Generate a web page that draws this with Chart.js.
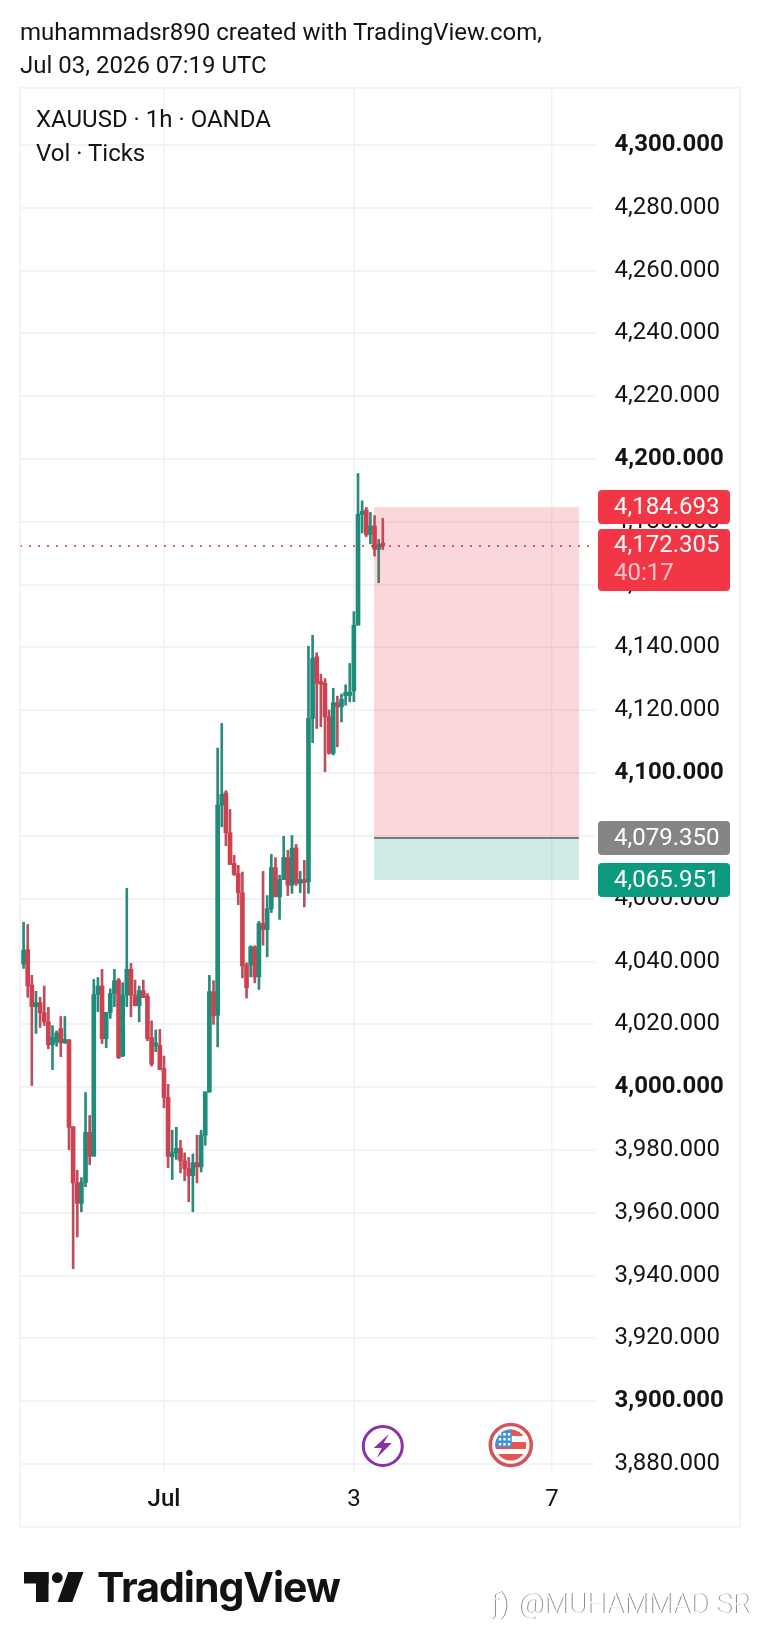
<!DOCTYPE html>
<html>
<head>
<meta charset="utf-8">
<title>XAUUSD 1h</title>
<script src="https://cdn.jsdelivr.net/npm/chart.js@4/dist/chart.umd.min.js"></script>
<style>
  html, body { margin: 0; padding: 0; background: #fff; }
  body { width: 760px; height: 1648px; position: relative; overflow: hidden; font-family: Roboto, sans-serif; color: #141414; }
  canvas { position: absolute; left: 0; top: 0; }
  .txt { position: absolute; white-space: nowrap; font-size: 24px; line-height: 30px; }
  .brand { position: absolute; left: 97px; top: 1562px; font: 700 41px/50px Inter, sans-serif; letter-spacing: -1px; color: #121212; }
  .mark { position: absolute; left: 490px; top: 1586px; font: 300 28px/36px Roboto, sans-serif; color: #fff; text-shadow: 1px 0 0 #8c8c8c; white-space: nowrap; }
  .mark span { display: inline-block; width: 28px; }
</style>
</head>
<body>
<canvas id="mychart" width="760" height="1648"></canvas>
<div class="txt" style="left:20px;top:17px">muhammadsr890 created with TradingView.com,</div>
<div class="txt" style="left:20px;top:50px">Jul 03, 2026 07:19 UTC</div>
<div class="txt" style="left:36px;top:104px">XAUUSD · 1h · OANDA</div>
<div class="txt" style="left:36px;top:138px">Vol · Ticks</div>
<div class="brand">TradingView</div>
<div class="mark"><span>ƒ)</span>@MUHAMMAD SR</div>
<script>
// hourly candles
const opens = [4039.2,4043.8,4032.5,4025.6,4026.9,4023.7,4020.8,4013.5,4014.4,4018.7,4014.1,4015,3987.4,3969.5,3963,3969.7,3985.6,3978,4029.5,4032.2,4015.4,4023.8,4029.8,4034.1,4009.9,4029.3,4037.5,4029.3,4025.9,4030.7,4029,4015.8,4013.1,4013.3,4005.9,3996.7,3977.8,3979.1,3980.5,3976.5,3974.1,3971.8,3975.9,3974.6,3984.7,3998.5,4030.4,4022.9,4089.8,4093.7,4081,4071.2,4068,4061.9,4038.9,4038.9,4044.7,4035.1,4052.1,4050.2,4056.8,4069.9,4060.6,4066.1,4073.1,4064.3,4076.2,4064.9,4066.1,4065.4,4117.4,4137,4129.1,4128.6,4117.9,4106.3,4122.4,4121.1,4124.7,4124.7,4126.2,4147.1,4182.4,4183.8,4176.1,4178.7,4171.3,4173];
const highs = [4052.5,4051.8,4035.6,4030.5,4028.6,4032.2,4025.4,4019.6,4017.9,4022.5,4022.5,4015.2,3987.4,3973.5,3971.2,3998.3,3991,4034.3,4034.9,4037.5,4023.8,4031.3,4037.5,4034.6,4033.3,4063.3,4039.4,4034.1,4032.2,4034.1,4029.8,4021.1,4018.2,4018.4,4009.9,4000.9,3986.3,3987.2,3983.1,3979.1,3977.6,3978.7,3984.7,3986.3,3998.5,4035.6,4033.9,4108,4115.8,4094.4,4088.4,4073.8,4070.6,4068.5,4039.6,4045,4045,4052.8,4068.7,4061,4074.1,4073.1,4067.5,4079.9,4075.4,4080.1,4077.3,4068.7,4072.2,4140.4,4143.9,4138.3,4131.5,4130.1,4120.1,4127,4124.5,4125.2,4128.1,4134.9,4151.4,4195.4,4186.7,4184.6,4183,4182,4174.4,4181.1];
const lows = [4037.8,4028.6,4000.5,4017.1,4019,4019.6,4012.2,4005.6,4013,4009.7,4013.9,3980.1,3942.2,3952.3,3960.3,3968.3,3975.3,3978,4024,4013.9,4012.6,4021.9,4025.6,4009.1,4009.7,4025.6,4022.4,4025.9,4020.8,4028.5,4014.8,4006.7,4011.3,4005.6,3993.4,3974.3,3970.6,3977,3972.7,3970.2,3963.5,3960.3,3969.5,3973,3981.5,3998.3,4020,4012.8,4082.9,4076.9,4070.9,4067.4,4058.1,4034.8,4028.4,4035.1,4033.2,4031.1,4045.2,4041.5,4055.6,4060.6,4053.4,4066.1,4061,4061.7,4064.2,4061.9,4057.4,4061.7,4109.7,4114.2,4114.8,4100.4,4106,4105.8,4108.4,4116.3,4121.6,4122.7,4122.7,4147.1,4176.5,4175.3,4173,4169.1,4160.6,4171.2];
const closes = [4043.6,4032.2,4025.6,4026.9,4023.7,4020.8,4013.5,4015.8,4017.3,4014.1,4015.2,3987.2,3969.5,3963,3969.7,3985.6,3978,4029.5,4032.2,4015.4,4023.8,4029.8,4033.9,4009.4,4029.3,4037.5,4029.3,4025.9,4030.7,4028.5,4015.5,4007.3,4014.1,4005.6,3996.7,3978,3979.1,3980.5,3976.5,3974.1,3971.8,3975.9,3974.6,3984.7,3998.5,4030.4,4022.7,4089.8,4093.2,4081,4070.9,4067.7,4061.9,4038.6,4031.6,4044.7,4035.1,4052.1,4050.2,4056.8,4069.9,4060.6,4066.1,4073.1,4064.3,4076,4064.9,4066.1,4065.1,4117.4,4136.5,4128.6,4128.3,4117.9,4106.3,4122.4,4121.1,4123.5,4125.8,4125.8,4147.1,4182.4,4183.4,4175.8,4178.7,4171.3,4172.8,4172.305];

const priceTicks = [3880,3900,3920,3940,3960,3980,4000,4020,4040,4060,4080,4100,4120,4140,4160,4180,4200,4220,4240,4260,4280,4300];
const boldTicks = [3900,4000,4100,4200,4300];
const dayTickPos = [34,80,128];
const dayTickLabels = ['Jul','3','7'];

// long position drawing and price tags
const stopPrice = 4184.693;
const entryPrice = 4079.35;
const targetPrice = 4065.951;
const lastPrice = 4172.305;
const countdown = '40:17';
const toolStart = 84.9;
const toolEnd = 134.5;

const upBody = '#1d8c7b', downBody = '#d0404f';
const upWick = '#2a8a7b', downWick = '#bb4f5e';
const up = closes.map((c, i) => c >= opens[i]);

function priceText(v) {
  return v.toLocaleString('en-US', { minimumFractionDigits: 3, maximumFractionDigits: 3 });
}

function roundBox(ctx, x, y, w, h, color) {
  ctx.fillStyle = color;
  ctx.beginPath();
  ctx.roundRect(x, y, w, h, 4);
  ctx.fill();
}

const overlay = {
  id: 'overlay',
  afterDatasetsDraw(chart) {
    const ctx = chart.ctx, x = chart.scales.x, y = chart.scales.y, area = chart.chartArea;
    const x0 = x.getPixelForValue(toolStart), x1 = x.getPixelForValue(toolEnd);
    const yStop = y.getPixelForValue(stopPrice), yEntry = y.getPixelForValue(entryPrice), yTarget = y.getPixelForValue(targetPrice);
    ctx.save();
    ctx.fillStyle = 'rgba(242,54,69,0.2)';
    ctx.fillRect(x0, yStop, x1 - x0, yEntry - yStop);
    ctx.fillStyle = 'rgba(8,153,129,0.2)';
    ctx.fillRect(x0, yEntry, x1 - x0, yTarget - yEntry);
    ctx.strokeStyle = '#787b86';
    ctx.lineWidth = 2;
    ctx.beginPath();
    ctx.moveTo(x0, yEntry);
    ctx.lineTo(x1, yEntry);
    ctx.stroke();

    // last price dotted line
    const yLast = y.getPixelForValue(lastPrice);
    ctx.strokeStyle = '#b2394a';
    ctx.lineWidth = 1.5;
    ctx.setLineDash([2, 7]);
    ctx.beginPath();
    ctx.moveTo(area.left, yLast);
    ctx.lineTo(area.right, yLast);
    ctx.stroke();
    ctx.restore();
  },
  afterDraw(chart) {
    const ctx = chart.ctx, x = chart.scales.x, y = chart.scales.y;
    ctx.save();

    // outer frame
    ctx.strokeStyle = '#f0f1f4';
    ctx.lineWidth = 1.5;
    ctx.strokeRect(20, 88, 720, 1439);

    // price tags
    ctx.textBaseline = 'middle';
    ctx.font = '24px Roboto';
    const tags = [[stopPrice, '#f23645'], [entryPrice, '#858585'], [targetPrice, '#0b9a80']];
    tags.forEach(t => {
      const py = y.getPixelForValue(t[0]);
      roundBox(ctx, 598, py - 17, 132, 34, t[1]);
      ctx.fillStyle = '#fff';
      ctx.fillText(priceText(t[0]), 614, py + 1);
    });
    const pyLast = y.getPixelForValue(lastPrice);
    roundBox(ctx, 598, pyLast - 17, 132, 62, '#f23645');
    ctx.fillStyle = '#fff';
    ctx.fillText(priceText(lastPrice), 614, pyLast);
    ctx.fillStyle = '#fbc4c9';
    ctx.fillText(countdown, 614, pyLast + 28);

    // event icons
    const evX = x.getPixelForValue(87), flagX = x.getPixelForValue(118), evY = 1446;
    ctx.strokeStyle = '#8e2fa5';
    ctx.lineWidth = 3;
    ctx.beginPath();
    ctx.arc(evX, evY, 19.5, 0, Math.PI * 2);
    ctx.fillStyle = '#fff';
    ctx.fill();
    ctx.stroke();
    ctx.fillStyle = '#8e2fa5';
    ctx.beginPath();
    ctx.moveTo(evX + 6, evY - 12);
    ctx.lineTo(evX - 9, evY + 2);
    ctx.lineTo(evX - 1, evY + 2);
    ctx.lineTo(evX - 6, evY + 12);
    ctx.lineTo(evX + 9, evY - 3);
    ctx.lineTo(evX + 1, evY - 3);
    ctx.closePath();
    ctx.fill();

    ctx.beginPath();
    ctx.arc(flagX, evY - 1, 20.5, 0, Math.PI * 2);
    ctx.fillStyle = '#fff';
    ctx.fill();
    ctx.strokeStyle = '#d2545a';
    ctx.lineWidth = 3.5;
    ctx.stroke();
    ctx.save();
    ctx.beginPath();
    ctx.arc(flagX, evY - 1, 15.5, 0, Math.PI * 2);
    ctx.clip();
    ctx.fillStyle = '#e2574f';
    ctx.fillRect(flagX - 16, evY - 17, 32, 7);
    ctx.fillRect(flagX - 16, evY - 4, 32, 7);
    ctx.fillRect(flagX - 16, evY + 8, 32, 8);
    ctx.fillStyle = '#3f8fdc';
    ctx.fillRect(flagX - 16, evY - 17, 17, 18);
    ctx.fillStyle = '#fff';
    for (let r = 0; r < 3; r++) {
      for (let c = 0; c < 3; c++) {
        ctx.fillRect(flagX - 12 + c * 4.5, evY - 13 + r * 5, 2.5, 2.5);
      }
    }
    ctx.restore();

    // TradingView logo
    ctx.fillStyle = '#121212';
    ctx.fillRect(24, 1572, 24.5, 11.5);
    ctx.fillRect(36, 1572, 12.5, 30);
    ctx.beginPath();
    ctx.arc(57.3, 1577.7, 5.4, 0, Math.PI * 2);
    ctx.fill();
    ctx.beginPath();
    ctx.moveTo(68.3, 1572);
    ctx.lineTo(83.5, 1572);
    ctx.lineTo(72.3, 1602);
    ctx.lineTo(57.5, 1602);
    ctx.closePath();
    ctx.fill();
    ctx.restore();
  }
};

new Chart(document.getElementById('mychart'), {
  type: 'bar',
  data: {
    datasets: [{
      label: 'Wick',
      data: highs.map((h, i) => ({ x: i, y: [lows[i], h] })),
      backgroundColor: up.map(u => u ? upWick : downWick),
      barThickness: 2,
      borderSkipped: false,
      order: 2
    }, {
      label: 'Body',
      data: opens.map((o, i) => ({ x: i, y: [o, closes[i]] })),
      backgroundColor: up.map(u => u ? upBody : downBody),
      barThickness: 4,
      minBarLength: 3,
      borderSkipped: false,
      order: 1
    }]
  },
  options: {
    responsive: false,
    animation: false,
    grouped: false,
    layout: { padding: { left: 20, top: 88, right: 20, bottom: 121 } },
    plugins: { legend: { display: false }, tooltip: { enabled: false }, title: { display: false } },
    scales: {
      x: {
        type: 'linear',
        offset: false,
        min: -0.87,
        max: 138.4,
        afterBuildTicks: axis => { axis.ticks = dayTickPos.map(v => ({ value: v })); },
        afterFit: axis => { axis.height = 55; },
        grid: { color: '#f1f2f5', lineWidth: 1.5, drawTicks: false, offset: false },
        border: { display: false },
        ticks: {
          autoSkip: false,
          maxRotation: 0,
          padding: 14,
          color: '#141414',
          font: ctx => ({ family: 'Roboto', size: 24, weight: ctx.index === 0 ? '500' : '400' }),
          callback: (v, i) => dayTickLabels[i]
        }
      },
      y: {
        position: 'right',
        min: 3877.45,
        max: 4318.15,
        afterBuildTicks: axis => { axis.ticks = priceTicks.map(v => ({ value: v })); },
        afterFit: axis => { axis.width = 145; },
        grid: { color: '#f2f3f5', lineWidth: 2, drawTicks: false },
        border: { display: false },
        ticks: {
          autoSkip: false,
          crossAlign: 'near',
          padding: 19.6,
          color: '#141414',
          font: ctx => ({ family: 'Roboto', size: 24, weight: ctx.tick && boldTicks.includes(ctx.tick.value) ? '700' : '400' }),
          callback: v => priceText(v)
        }
      }
    }
  },
  plugins: [overlay]
});
</script>
</body>
</html>
